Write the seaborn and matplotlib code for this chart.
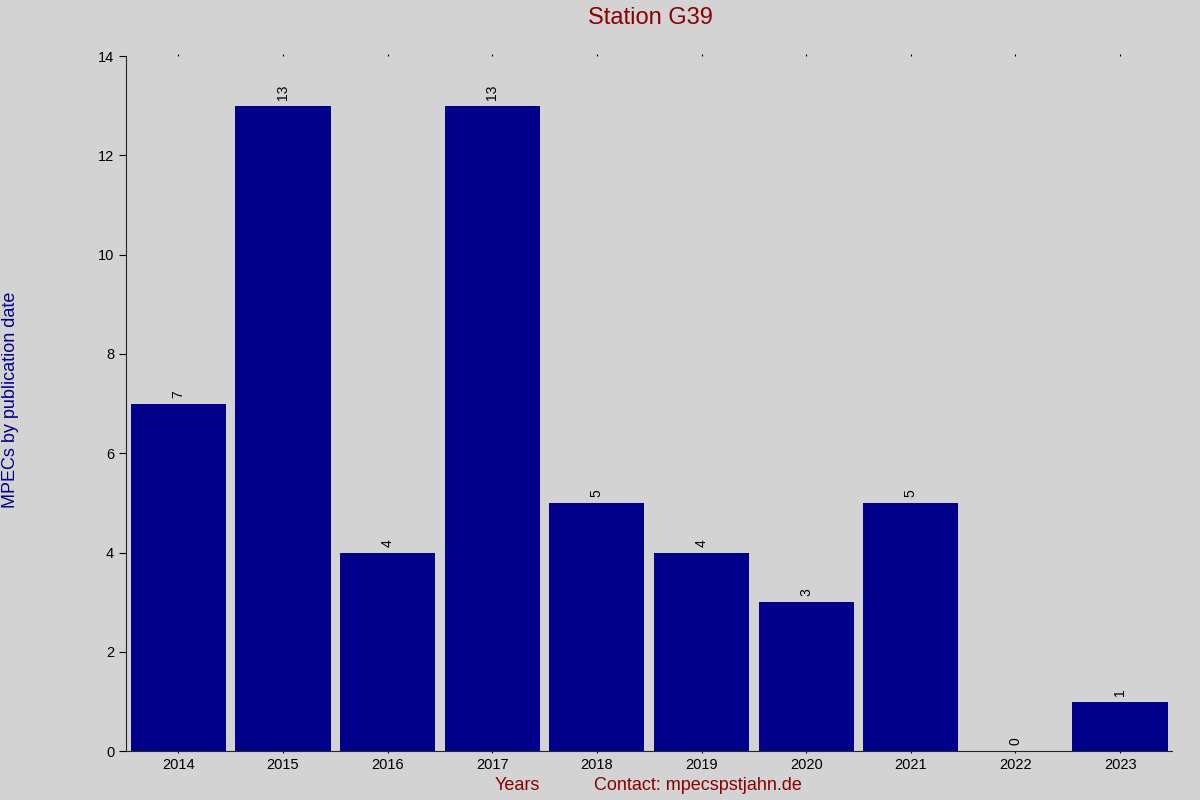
import matplotlib
matplotlib.use("Agg")
import matplotlib.pyplot as plt
import seaborn as sns
import pandas as pd

years = ["2014","2015","2016","2017","2018","2019","2020","2021","2022","2023"]
counts = [7,13,4,13,5,4,3,5,0,1]

sns.set_style("ticks")
plt.rcParams['font.family'] = ['Liberation Sans', 'DejaVu Sans']
bg = "#d3d3d3"
fig = plt.figure(figsize=(12,8), dpi=100, facecolor=bg)
ax = fig.add_axes([0.105, 0.061, 0.872, 0.869], facecolor=bg)
df = pd.DataFrame({"year": years, "n": counts})
sns.barplot(data=df, x="year", y="n", color="#00008b", saturation=1, width=0.91,
            linewidth=0, edgecolor="none", ax=ax)
for i, v in enumerate(counts):
    ax.text(i, v + 0.12, str(v), rotation=90, ha="center", va="bottom", fontsize=10, color="black")
ax.set_xlim(-0.5, 9.5)
ax.set_ylim(0, 14)
ax.set_yticks(range(0, 15, 2))
for s in ["top", "right"]:
    ax.spines[s].set_visible(False)
ax.tick_params(axis="both", labelsize=10.5, color="black", labelcolor="black", length=5)
ax.tick_params(axis="x", top=True, length=1.5)
ax.set_xlabel("")
ax.set_ylabel("")
fig.text(0.009, 0.5, "MPECs by publication date", rotation=90, ha="center", va="center",
         color="#00008b", fontsize=13)
fig.text(0.5417, 0.977, "Station G39", ha="center", va="center", color="#8b0000", fontsize=17)
fig.text(0.431, 0.018, "Years", ha="center", va="center", color="#8b0000", fontsize=13)
fig.text(0.582, 0.018, "Contact: mpecspstjahn.de", ha="center", va="center", color="#8b0000", fontsize=13)
fig.savefig("out.png", dpi=100, facecolor=bg)
